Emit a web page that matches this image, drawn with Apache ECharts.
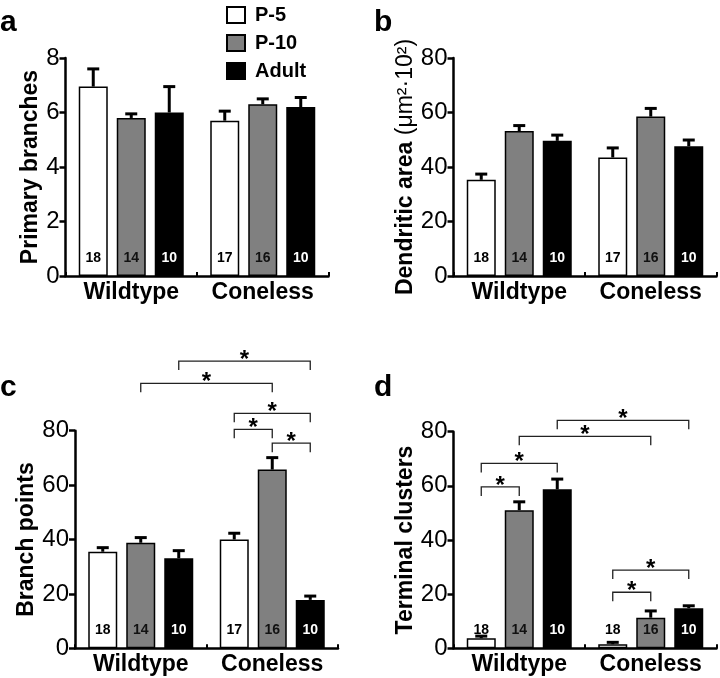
<!DOCTYPE html>
<html>
<head>
<meta charset="utf-8">
<script src="https://cdn.jsdelivr.net/npm/echarts@6/dist/echarts.min.js"></script>
<style>html,body{margin:0;background:#fff}#main{width:720px;height:678px}</style>
</head>
<body>
<div id="main"></div>
<script>
const groups = ['Wildtype', 'Coneless'];
const ages = ['P-5', 'P-10', 'Adult'];
// rows = age (P-5, P-10, Adult), columns = group (Wildtype, Coneless)
const primaryMean = [[6.95, 5.7], [5.8, 6.3], [6.0, 6.2]];
const primarySem = [[0.65, 0.35], [0.15, 0.2], [0.95, 0.35]];
const areaMean = [[35.3, 43.5], [53.2, 58.5], [49.6, 47.6]];
const areaSem = [[2.1, 3.5], [2.0, 3.0], [2.1, 2.3]];
const branchMean = [[35.5, 40.0], [38.8, 65.7], [33.1, 17.8]];
const branchSem = [[1.5, 2.3], [1.9, 4.4], [2.8, 1.4]];
const clusterMean = [[3.7, 1.5], [51.0, 11.3], [58.7, 14.8]];
const clusterSem = [[0.8, 0.7], [3.1, 2.5], [3.8, 0.9]];
const cellsN = [[18, 17], [14, 16], [10, 10]];
const cellsNd = [[18, 18], [14, 16], [10, 10]];
// significance brackets: [group1, age1, group2, age2, height]
const branchSig = [[0, 2, 1, 2, 105.6], [0, 1, 1, 1, 97.4], [1, 0, 1, 2, 86.4], [1, 0, 1, 1, 80.5], [1, 1, 1, 2, 75.4]];
const clusterSig = [[0, 2, 1, 2, 84.2], [0, 1, 1, 1, 78.3], [0, 0, 0, 2, 68.3], [0, 0, 0, 1, 59.6], [1, 0, 1, 2, 28.9], [1, 0, 1, 1, 20.7]];

const FONT = 'Liberation Sans, Arial, sans-serif';
const BAR_W = 29, BAR_GAP = 9, CAP = 6, DROP = 9;
const colors = ['#ffffff', '#808080', '#000000'];
const labelColors = ['#000', '#111', '#fff'];

const panels = [
  {grid: {left: 65.5, top: 58, width: 263, height: 218}, max: 8, interval: 2,
   name: 'Primary branches', gap: 21, mean: primaryMean, sem: primarySem, n: cellsN, sig: []},
  {grid: {left: 453.5, top: 58, width: 263, height: 218}, max: 80, interval: 20,
   name: '{b|Dendritic area }{r|(\u03bcm\u00b2\u00b710\u00b2)}', gap: 35, mean: areaMean, sem: areaSem, n: cellsN, sig: []},
  {grid: {left: 75, top: 430.7, width: 263, height: 217.6}, max: 80, interval: 20,
   name: 'Branch points', gap: 33, mean: branchMean, sem: branchSem, n: cellsN, sig: branchSig},
  {grid: {left: 453.5, top: 431.7, width: 263, height: 216.6}, max: 80, interval: 20,
   name: 'Terminal clusters', gap: 36, mean: clusterMean, sem: clusterSem, n: cellsNd, sig: clusterSig}
];

const barX = (api, g, a) => api.coord([g, 0])[0] + (a - 1) * (BAR_W + BAR_GAP);

function renderErr(params, api) {
  const g = api.value(0), a = api.value(1), m = api.value(2), s = api.value(3);
  const x = barX(api, g, a);
  const y0 = api.coord([g, m])[1], y1 = api.coord([g, m + s])[1];
  const st = {stroke: '#000', lineWidth: 3};
  return {type: 'group', children: [
    {type: 'line', shape: {x1: x, y1: y0, x2: x, y2: y1}, style: st},
    {type: 'line', shape: {x1: x - CAP, y1: y1, x2: x + CAP, y2: y1}, style: st}
  ]};
}

function renderSig(params, api) {
  const x1 = barX(api, api.value(0), api.value(1));
  const x2 = barX(api, api.value(2), api.value(3));
  const y = api.coord([0, api.value(4)])[1];
  return {type: 'group', children: [
    {type: 'polyline', shape: {points: [[x1, y + DROP], [x1, y], [x2, y], [x2, y + DROP]]},
     style: {stroke: '#222', lineWidth: 1.3, fill: null}},
    {type: 'text', style: {text: '*', x: (x1 + x2) / 2, y: y - 1, align: 'center', verticalAlign: 'middle',
     fontSize: 24, fontWeight: 'bold', fontFamily: FONT, fill: '#000'}}
  ]};
}

const grid = [], xAxis = [], yAxis = [], series = [];
panels.forEach((p, pi) => {
  grid.push(p.grid);
  xAxis.push({type: 'category', gridIndex: pi, data: groups,
    axisLine: {lineStyle: {color: '#000', width: 2.5}},
    axisTick: {show: true, inside: true, length: 4, lineStyle: {color: '#000', width: 2}},
    axisLabel: {color: '#000', fontSize: 23, fontWeight: 'bold', margin: 5, fontFamily: FONT,
      interval: 0, hideOverlap: false}});
  yAxis.push({type: 'value', gridIndex: pi, min: 0, max: p.max, interval: p.interval,
    name: p.name, nameLocation: 'middle', nameGap: p.gap,
    nameTextStyle: {color: '#000', fontSize: 23, fontWeight: 'bold', fontFamily: FONT,
      rich: {b: {fontSize: 23, fontWeight: 'bold', fontFamily: FONT, color: '#000'},
             r: {fontSize: 23, fontWeight: 'normal', fontFamily: FONT, color: '#000'}}},
    splitLine: {show: false},
    axisLine: {show: true, lineStyle: {color: '#000', width: 2.5}},
    axisTick: {show: true, length: 6, lineStyle: {color: '#000', width: 2.5}},
    axisLabel: {color: '#000', fontSize: 24, margin: 6, fontFamily: FONT}});
  ages.forEach((age, ai) => {
    series.push({type: 'bar', name: age, xAxisIndex: pi, yAxisIndex: pi,
      data: p.mean[ai], barWidth: BAR_W, barGap: (BAR_GAP / BAR_W * 100) + '%',
      itemStyle: {color: colors[ai], borderColor: '#000', borderWidth: 1.5},
      label: {show: true, position: 'insideBottom', distance: 11,
        formatter: (d) => String(p.n[ai][d.dataIndex]),
        color: labelColors[ai], fontSize: 14, fontWeight: 'bold', fontFamily: FONT},
      emphasis: {disabled: true}});
  });
  const errData = [];
  ages.forEach((age, ai) => groups.forEach((g, gi) => errData.push([gi, ai, p.mean[ai][gi], p.sem[ai][gi]])));
  series.push({type: 'custom', xAxisIndex: pi, yAxisIndex: pi, renderItem: renderErr,
    encode: {x: 0, y: 2}, data: errData, z: 3, silent: true});
  if (p.sig.length) {
    series.push({type: 'custom', xAxisIndex: pi, yAxisIndex: pi, renderItem: renderSig,
      encode: {x: 0, y: 4}, data: p.sig, clip: false, z: 3, silent: true});
  }
});

const letters = [['a', 0, 38], ['b', 374, 38], ['c', 0, 403], ['d', 374, 403]];
const chart = echarts.init(document.getElementById('main'));
chart.setOption({
  animation: false,
  textStyle: {fontFamily: FONT},
  legend: {data: ages, orient: 'vertical', left: 221, top: 0, icon: 'rect',
    itemWidth: 18, itemHeight: 16, itemGap: 8, selectedMode: false,
    textStyle: {fontSize: 20, fontWeight: 'bold', color: '#000', fontFamily: FONT, padding: [0, 0, 0, 5]}},
  graphic: letters.map(l => ({type: 'text', x: l[1], y: l[2],
    style: {text: l[0], fontSize: 30, fontWeight: 'bold', fontFamily: FONT, fill: '#000', verticalAlign: 'bottom'}})),
  grid, xAxis, yAxis, series
});
</script>
</body>
</html>
